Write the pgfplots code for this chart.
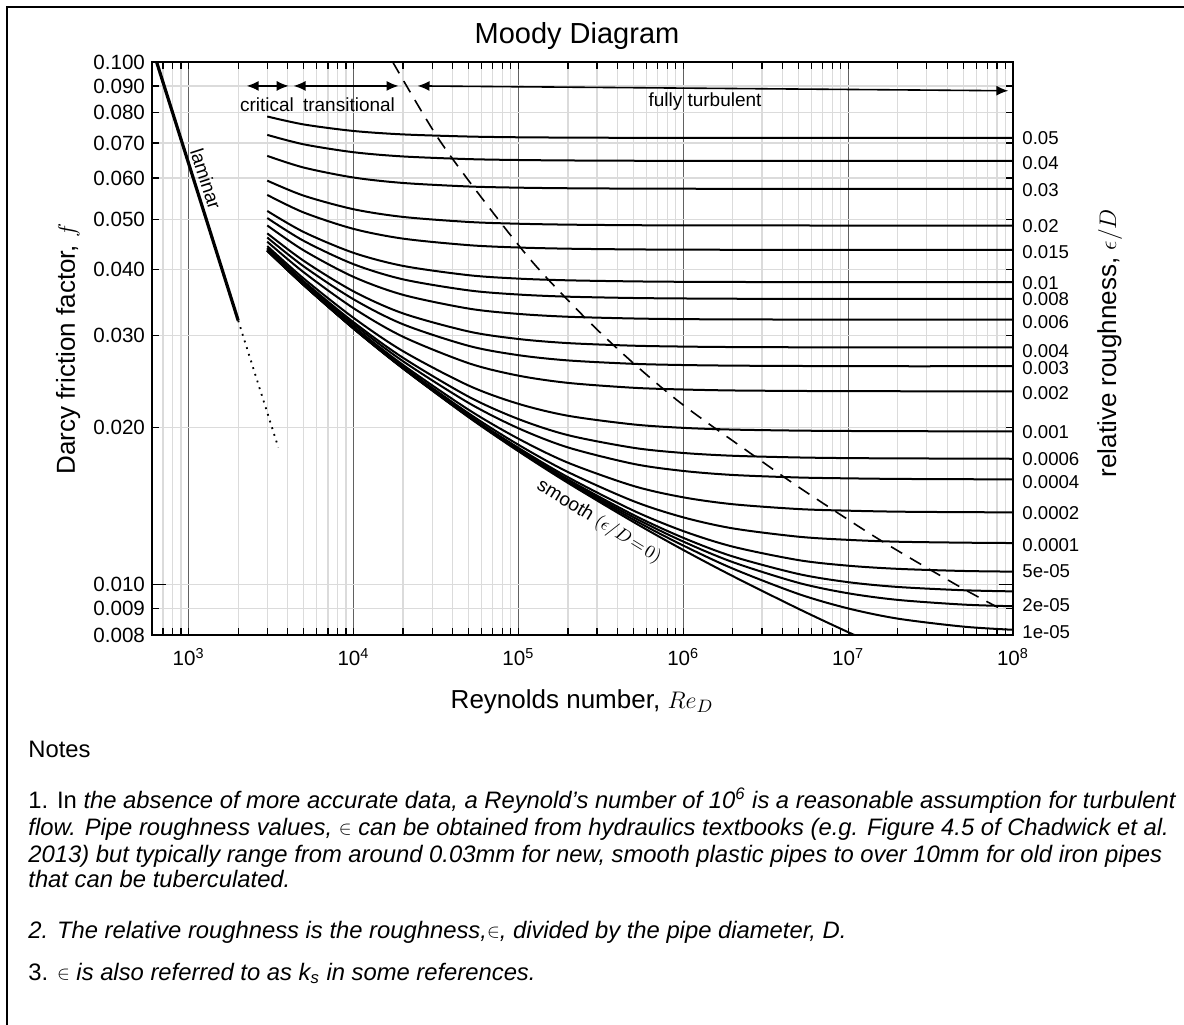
\documentclass[border=0pt]{standalone}
\usepackage{fontspec}
\setmainfont{Liberation Sans}
\usepackage{pgfplots}
\usepackage{pgfplotstable}
\pgfplotsset{compat=1.18}
\usetikzlibrary{arrows.meta}

\pgfplotstableread{
Re r050 r040 r030 r020 r015 r010 r008 r006 r004 r003 r002 r001 r0006 r0004 r0002 r0001 r00005 r00003 r00002 r00001 smooth
3000 0.07867 0.07254 0.06612 0.05929 0.05567 0.05187 0.05028 0.04866 0.04700 0.04614 0.04529 0.04443 0.04408 0.04390 0.04369 0.04361 0.04356 0.04355 0.04354 0.04353 0.04351
5000 0.07595 0.06957 0.06280 0.05548 0.05151 0.04726 0.04545 0.04358 0.04162 0.04061 0.03957 0.03850 0.03804 0.03784 0.03761 0.03751 0.03745 0.03742 0.03741 0.03740 0.03739
10000 0.07380 0.06720 0.06011 0.05227 0.04793 0.04313 0.04103 0.03880 0.03640 0.03515 0.03379 0.03239 0.03178 0.03150 0.03119 0.03104 0.03096 0.03093 0.03091 0.03090 0.03088
20000 0.07269 0.06596 0.05868 0.05052 0.04591 0.04071 0.03837 0.03584 0.03302 0.03147 0.02979 0.02795 0.02715 0.02674 0.02631 0.02610 0.02599 0.02595 0.02593 0.02590 0.02589
50000 0.07201 0.06519 0.05778 0.04941 0.04461 0.03908 0.03655 0.03373 0.03049 0.02862 0.02651 0.02402 0.02287 0.02225 0.02159 0.02125 0.02107 0.02100 0.02096 0.02093 0.02089
100000 0.07178 0.06493 0.05748 0.04903 0.04415 0.03850 0.03589 0.03295 0.02950 0.02747 0.02510 0.02217 0.02073 0.01991 0.01901 0.01851 0.01826 0.01815 0.01810 0.01804 0.01799
200000 0.07167 0.06480 0.05733 0.04883 0.04392 0.03821 0.03555 0.03254 0.02897 0.02684 0.02431 0.02103 0.01931 0.01829 0.01710 0.01641 0.01604 0.01588 0.01580 0.01572 0.01564
500000 0.07160 0.06472 0.05724 0.04871 0.04378 0.03803 0.03534 0.03229 0.02864 0.02644 0.02379 0.02024 0.01826 0.01701 0.01543 0.01443 0.01384 0.01358 0.01344 0.01330 0.01316
1000000 0.07157 0.06470 0.05721 0.04868 0.04374 0.03796 0.03527 0.03220 0.02853 0.02630 0.02361 0.01994 0.01785 0.01649 0.01468 0.01344 0.01265 0.01228 0.01208 0.01187 0.01164
2000000 0.07156 0.06468 0.05719 0.04866 0.04371 0.03793 0.03523 0.03216 0.02847 0.02623 0.02351 0.01979 0.01763 0.01620 0.01424 0.01280 0.01181 0.01131 0.01103 0.01072 0.01037
5000000 0.07155 0.06467 0.05718 0.04865 0.04370 0.03791 0.03521 0.03214 0.02844 0.02619 0.02346 0.01970 0.01750 0.01602 0.01394 0.01234 0.01113 0.01047 0.01007 0.009587 0.008981
10000000 0.07155 0.06467 0.05718 0.04864 0.04369 0.03790 0.03520 0.03213 0.02843 0.02617 0.02344 0.01967 0.01745 0.01596 0.01384 0.01217 0.01086 0.01010 0.009617 0.008996 0.008102
20000000 0.07155 0.06467 0.05718 0.04864 0.04369 0.03790 0.03520 0.03212 0.02842 0.02616 0.02343 0.01965 0.01743 0.01592 0.01378 0.01207 0.01071 0.009888 0.009340 0.008600 0.007348
50000000 0.07155 0.06467 0.05718 0.04864 0.04369 0.03790 0.03520 0.03212 0.02842 0.02616 0.02342 0.01964 0.01741 0.01590 0.01375 0.01202 0.01061 0.009746 0.009149 0.008302 0.006492
100000000 0.07155 0.06467 0.05718 0.04864 0.04369 0.03790 0.03520 0.03212 0.02842 0.02616 0.02342 0.01964 0.01740 0.01589 0.01374 0.01200 0.01058 0.009697 0.009082 0.008187 0.005942
}\moody

\newcommand{\elem}{\raisebox{0.05ex}{\scalebox{0.8}{$\in$}}}

\begin{document}
\begin{tikzpicture}[x=1pt,y=1pt]
\useasboundingbox (0,0) rectangle (592,-512);
\draw[line width=1pt] (3.5,-520) -- (3.5,-3.5) -- (600,-3.5);
\begin{axis}[
  at={(76pt,-317.5pt)}, anchor=south west,
  scale only axis, width=430.5pt, height=286.5pt,
  xmode=log, ymode=log,
  xmin=600, xmax=1e8, ymin=0.008, ymax=0.1,
  xtick={1e3,1e4,1e5,1e6,1e7,1e8},
  xticklabels={10\textsuperscript{3},10\textsuperscript{4},10\textsuperscript{5},10\textsuperscript{6},10\textsuperscript{7},10\textsuperscript{8}},
  minor xtick={700,800,900,2000,3000,4000,5000,6000,7000,8000,9000,20000,30000,40000,50000,60000,70000,80000,90000,2e5,3e5,4e5,5e5,6e5,7e5,8e5,9e5,2e6,3e6,4e6,5e6,6e6,7e6,8e6,9e6,2e7,3e7,4e7,5e7,6e7,7e7,8e7,9e7},
  ytick={0.008,0.009,0.01,0.02,0.03,0.04,0.05,0.06,0.07,0.08,0.09,0.1},
  yticklabels={0.008,0.009,0.010,0.020,0.030,0.040,0.050,0.060,0.070,0.080,0.090,0.100},
  minor ytick={},
  xmajorgrids, xminorgrids, ymajorgrids,
  every major x grid/.append style={black!62, line width=0.6pt},
  every minor x grid/.append style={black!14, line width=0.6pt},
  every major y grid/.append style={black!14, line width=0.6pt},
  tick align=inside, major tick length=3.5pt, minor tick length=3.5pt,
  tick style={black, line width=0.6pt},
  axis line style={black, line width=0.8pt},
  tick label style={font=\fontsize{10.3}{12}\selectfont},
  xticklabel style={yshift=-3pt},
  clip mode=individual,
]
\pgfplotsinvokeforeach{r050,r040,r030,r020,r015,r010,r008,r006,r004,r003,r002,r001,r0006,r0004,r0002,r0001,r00005,r00003,r00002,r00001,smooth}{
  \addplot[black, line width=1pt, smooth, tension=0.5] table[x=Re, y=#1] {\moody};
}
% laminar
\addplot[black, line width=1.6pt] coordinates {(640,0.1) (2000,0.032)};
\addplot[black, line width=0.9pt, dash pattern=on 0.9pt off 2.6pt] coordinates {(2000,0.032) (3500,0.01829)};
% fully rough boundary
\addplot[black, line width=0.8pt, dash pattern=on 6.5pt off 4.5pt, smooth] coordinates {
(17300,0.1) (32290,0.07185) (61370,0.05442) (123300,0.04123) (261900,0.03208) (497700,0.02653) (1e6,0.02205) (2.547e6,0.01784) (5.119e6,0.01529) (1.563e7,0.01216) (4.773e7,0.00989) (8.70e7,0.00893)};
% regime arrows
\draw[line width=0.8pt, {Latex[length=6pt,width=5pt]}-{Latex[length=6pt,width=5pt]}] (axis cs:2250,0.0900) -- (axis cs:4050,0.0900);
\draw[line width=0.8pt, {Latex[length=6pt,width=5pt]}-{Latex[length=6pt,width=5pt]}] (axis cs:4330,0.0900) -- (axis cs:18780,0.0900);
\draw[line width=0.8pt, {Latex[length=6pt,width=5pt]}-{Latex[length=6pt,width=5pt]}] (axis cs:24450,0.0900) -- (axis cs:9.38e7,0.0881);
% long tick at 0.010 on both sides
\draw[line width=0.6pt] (axis cs:600,0.01) -- ([xshift=7pt]axis cs:600,0.01);
\draw[line width=0.6pt] (axis cs:1e8,0.01) -- ([xshift=-7pt]axis cs:1e8,0.01);
\end{axis}
% title and labels
\node[anchor=base, font=\fontsize{14.5}{17}\selectfont] at (288.5,-21.5) {Moody Diagram};
\node[anchor=base, font=\fontsize{13}{15}\selectfont] at (291,-354) {Reynolds number, $Re_D$};
\node[anchor=base, rotate=90, font=\fontsize{13}{15}\selectfont] at (37.5,-174.5) {Darcy friction factor, $f$};
\node[anchor=base, rotate=90, font=\fontsize{13}{15}\selectfont] at (558,-171.5) {relative roughness, $\epsilon/D$};
% annotations
\begin{scope}[every node/.style={font=\fontsize{9.5}{11}\selectfont, inner sep=0pt}]
\node at (133.5,-52.5) {critical};
\node at (174.5,-52.5) {transitional};
\node at (352.5,-51) {fully turbulent};
\node[rotate=-72] at (103,-89.5) {laminar};
\node[rotate=-31.5] at (299.5,-261) {smooth $(\epsilon/D\!=\!0)$};
\end{scope}
% relative roughness labels
\begin{scope}[every node/.style={font=\fontsize{9.3}{11}\selectfont, inner sep=0pt, anchor=west}]
\node at (511,-69) {0.05};
\node at (511,-81.5) {0.04};
\node at (511,-95) {0.03};
\node at (511,-113) {0.02};
\node at (511,-126) {0.015};
\node at (511,-141.5) {0.01};
\node at (511,-149.5) {0.008};
\node at (511,-161) {0.006};
\node at (511,-175.5) {0.004};
\node at (511,-184) {0.003};
\node at (511,-196.5) {0.002};
\node at (511,-216) {0.001};
\node at (511,-229.5) {0.0006};
\node at (511,-241) {0.0004};
\node at (511,-256.5) {0.0002};
\node at (511,-272.5) {0.0001};
\node at (511,-285.5) {5e-05};
\node at (511,-302.5) {2e-05};
\node at (511,-316) {1e-05};
\end{scope}
% notes
\begin{scope}[every node/.style={font=\fontsize{11.9}{14}\selectfont, inner sep=0pt, anchor=base west}]
\node at (14,-378.5) {Notes};
\node at (14,-404) {1. In \textit{the absence of more accurate data, a Reynold’s number of 10\textsuperscript{6} is a reasonable assumption for turbulent}};
\node at (14,-417.5) {\textit{flow. Pipe roughness values, \elem{} can be obtained from hydraulics textbooks (e.g. Figure 4.5 of Chadwick et al.}};
\node at (14,-431) {\textit{2013) but typically range from around 0.03mm for new, smooth plastic pipes to over 10mm for old iron pipes}};
\node at (14,-443.5) {\textit{that can be tuberculated.}};
\node at (14,-469) {\textit{2. The relative roughness is the roughness,\elem, divided by the pipe diameter, D.}};
\node at (14,-490) {3. \elem{} \textit{is also referred to as k\textsubscript{s} in some references.}};
\end{scope}
\end{tikzpicture}
\end{document}
